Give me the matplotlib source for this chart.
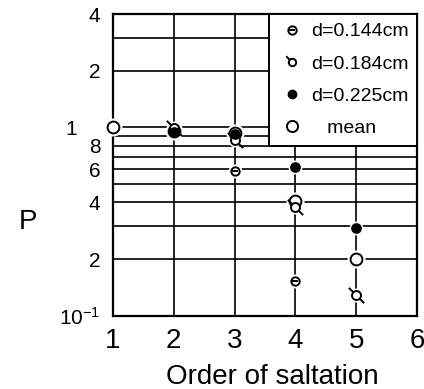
import matplotlib
matplotlib.use("Agg")
import matplotlib.pyplot as plt
from matplotlib.path import Path
from matplotlib.ticker import FixedLocator, FixedFormatter, NullFormatter

# values
order_144 = [2, 3, 4]
p_144 = [0.96, 0.59, 0.154]
order_184 = [2, 3, 4, 5]
p_184 = [0.99, 0.86, 0.38, 0.129]
order_225 = [2, 3, 4, 5]
p_225 = [0.95, 0.92, 0.615, 0.294]
order_mean = [1, 2, 3, 4, 5]
p_mean = [1.0, 0.96, 0.93, 0.407, 0.2]

x_ticks = [1, 2, 3, 4, 5, 6]
y_ticks = [0.1, 0.2, 0.4, 0.6, 0.8, 1, 2, 4]
y_ticklabels = ["$10^{-1}$", "2", "4", "6", "8", "1    ", "2", "4"]
y_minor = [0.3, 0.5, 0.7, 0.9, 3]

plt.rcParams.update({
    "font.family": ["Liberation Sans", "DejaVu Sans"],
    "mathtext.fontset": "custom",
    "mathtext.rm": "Liberation Sans",
    "mathtext.it": "Liberation Sans",
    "axes.linewidth": 1.6,
})

# circle with a diagonal tail for d=0.184cm
tail_marker = Path.make_compound_path(
    Path.unit_circle(),
    Path([(-1.7, 1.7), (-0.7, 0.7)]),
    Path([(0.7, -0.7), (1.7, -1.7)]),
)

fig = plt.figure(figsize=(4.24, 3.89), dpi=100)
ax = fig.add_axes([0.2665, 0.1877, 0.717, 0.7763])

ax.set_yscale("log")
ax.set_xlim(1, 6)
ax.set_ylim(0.1, 4)

# white halos so the grid breaks around markers
halo = dict(ls="none", marker="o", mfc="white", mec="white", zorder=3, clip_on=False)
ax.plot(order_mean, p_mean, ms=12, **halo)
ax.plot(order_144, p_144, ms=9, **halo)
ax.plot(order_184, p_184, ms=9, **halo)
ax.plot(order_225, p_225, ms=9, **halo)

ax.plot(order_mean, p_mean, ls="none", marker="o", ms=8.5, mfc="white", mec="black",
        mew=1.4, zorder=4, clip_on=False)
ax.plot(order_144, p_144, ls="none", marker="o", ms=6, mfc="white", mec="black",
        mew=1.4, zorder=5)
ax.plot(order_144, p_144, ls="none", marker="_", ms=5, mec="black", mew=1.4, zorder=6)
ax.plot(order_184, p_184, ls="none", marker=tail_marker, ms=11, mfc="white", mec="black",
        mew=1.4, zorder=5)
ax.plot(order_225, p_225, ls="none", marker="o", ms=6.5, mfc="black", mec="black",
        mew=1.2, zorder=6)

# legend handles
h144a, = ax.plot([], [], ls="none", marker="o", ms=6, mfc="white", mec="black", mew=1.4)
h144b, = ax.plot([], [], ls="none", marker="_", ms=5, mec="black", mew=1.4)
h184, = ax.plot([], [], ls="none", marker=Path.make_compound_path(
    Path.unit_circle(), Path([(-1.7, 1.7), (-0.7, 0.7)])),
    ms=9, mfc="white", mec="black", mew=1.4)
h225, = ax.plot([], [], ls="none", marker="o", ms=6, mfc="black", mec="black")
hmean, = ax.plot([], [], ls="none", marker="o", ms=8, mfc="white", mec="black", mew=1.4)

leg = ax.legend([(h144a, h144b), h184, h225, hmean],
                ["d=0.144cm", "d=0.184cm", "d=0.225cm", "   mean"],
                loc="upper right", borderaxespad=0, fancybox=False, framealpha=1,
                edgecolor="black", fontsize=14, handlelength=1.5, handletextpad=0.2,
                borderpad=0.45, labelspacing=0.75)
leg.get_frame().set_linewidth(1.4)
leg.set_zorder(10)

ax.xaxis.set_major_locator(FixedLocator(x_ticks))
ax.yaxis.set_major_locator(FixedLocator(y_ticks))
ax.yaxis.set_major_formatter(FixedFormatter(y_ticklabels))
ax.yaxis.set_minor_locator(FixedLocator(y_minor))
ax.yaxis.set_minor_formatter(NullFormatter())
ax.tick_params(which="both", length=0)
ax.tick_params(axis="x", labelsize=20, pad=9)
ax.tick_params(axis="y", labelsize=15, pad=9)
ax.grid(True, which="both", color="black", lw=1.2)
ax.set_axisbelow(True)

ax.set_xlabel("Order of saltation", fontsize=20)
ax.xaxis.set_label_coords(0.523, -0.16)
ax.set_ylabel("P", fontsize=20, rotation=0, va="center", ha="center")
ax.yaxis.set_label_coords(-0.28, 0.31)

fig.savefig("out.png", dpi=100)
